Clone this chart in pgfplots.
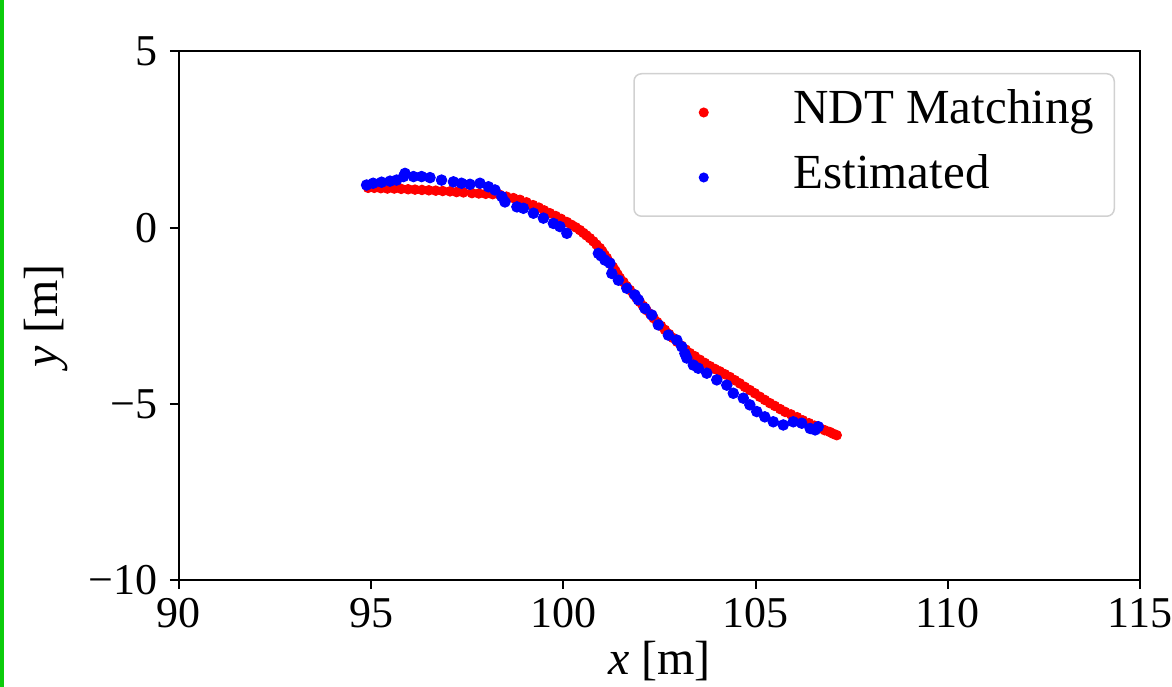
\documentclass[border=0pt]{standalone}
\usepackage{fontspec}
\setmainfont{Liberation Serif}
\usepackage{pgfplots}
\pgfplotsset{compat=1.18}

\definecolor{framegreen}{RGB}{12,204,12}

\begin{document}
\begin{tikzpicture}
\begin{axis}[
    name=ax,
    scale only axis,
    width=384.4pt,
    height=211.4pt,
    xmin=90, xmax=115,
    ymin=-10, ymax=5,
    xtick={90,95,100,105,110,115},
    xticklabels={90,95,100,105,110,115},
    ytick={-10,-5,0,5},
    yticklabels={−10,−5,0,5},
    xtick pos=bottom,
    ytick pos=left,
    tick align=outside,
    major tick length=3.6pt,
    axis line style={line width=0.8pt},
    every tick/.style={black, line width=0.8pt},
    tick label style={font=\fontsize{17.6}{20}\selectfont},
    xticklabel style={anchor=base, yshift=-15.6pt},
    yticklabel style={anchor=east, inner sep=0pt, xshift=-4.8pt},
    xlabel={\textit{x} [m]},
    ylabel={\textit{y} [m]},
    every axis x label/.style={at={(axis description cs:0.5,-0.178)}, anchor=base,
        font=\fontsize{19.2}{22}\selectfont},
    every axis y label/.style={at={(axis description cs:-0.1384,0.5)}, anchor=center, rotate=90,
        font=\fontsize{19.2}{22}\selectfont},
    legend style={
        at={(axis description cs:1,1)}, anchor=north east,
        xshift=-10pt, yshift=-8.6pt,
        draw=black!18, line width=0.6pt, rounded corners=3pt, fill=white,
        inner xsep=8pt, inner ysep=7pt,
        nodes={inner sep=0pt, text height=13pt, text depth=4pt},
        row sep=9pt, column sep=0pt,
        font=\fontsize{19.6}{22}\selectfont,
        cells={anchor=west},
    },
    legend image code/.code={
        \path (0pt,0pt) (55.2pt,0pt);
        \draw[#1, mark size=1.7pt] plot coordinates {(19.6pt,0pt)};
    },
]

% NDT matching trajectory (dense)
\addplot[only marks, mark=*, color=red, mark size=1.9pt, mark options={draw=none, fill=red}] coordinates {
(94.92,1.13) (95.08,1.13) (95.25,1.12) (95.42,1.11) (95.60,1.11) (95.78,1.10)
(95.96,1.09) (96.14,1.08) (96.32,1.07) (96.50,1.06) (96.68,1.05) (96.86,1.04)
(97.05,1.03) (97.22,1.01) (97.40,1.00) (97.62,0.98) (97.80,0.97) (97.98,0.96)
(98.16,0.95) (98.35,0.93) (98.52,0.88) (98.70,0.84) (98.87,0.79) (99.04,0.72)
(99.21,0.64) (99.36,0.57) (99.50,0.49) (99.65,0.41) (99.80,0.33) (99.94,0.25)
(100.09,0.16) (100.21,0.08) (100.32,0.01) (100.43,-0.07) (100.52,-0.15) (100.60,-0.22)
(100.69,-0.30) (100.78,-0.39) (100.86,-0.48) (100.95,-0.58) (101.01,-0.67) (101.07,-0.77)
(101.13,-0.86) (101.21,-0.99) (101.29,-1.12) (101.35,-1.22) (101.41,-1.33) (101.47,-1.43)
(101.56,-1.54) (101.64,-1.66) (101.73,-1.77) (101.82,-1.88) (101.90,-1.99) (101.99,-2.11)
(102.07,-2.22) (102.16,-2.34) (102.26,-2.45) (102.35,-2.57) (102.44,-2.68) (102.54,-2.79)
(102.64,-2.90) (102.75,-3.02) (102.85,-3.13) (102.96,-3.24) (103.07,-3.35) (103.18,-3.46)
(103.29,-3.56) (103.42,-3.65) (103.55,-3.75) (103.68,-3.84) (103.81,-3.93) (103.94,-4.01)
(104.07,-4.08) (104.20,-4.16) (104.33,-4.24) (104.46,-4.33) (104.59,-4.42) (104.72,-4.52)
(104.85,-4.61) (104.98,-4.70) (105.11,-4.80) (105.24,-4.89) (105.37,-4.98) (105.50,-5.06)
(105.64,-5.15) (105.77,-5.23) (105.92,-5.30) (106.08,-5.38) (106.23,-5.47) (106.39,-5.55)
(106.53,-5.62) (106.67,-5.69) (106.80,-5.75) (106.93,-5.80) (107.02,-5.85) (107.11,-5.89)
};
\addlegendentry{NDT Matching}

% estimated trajectory
\addplot[only marks, mark=*, color=blue, mark size=2.1pt, mark options={draw=none, fill=blue}] coordinates {
(94.88,1.21) (95.05,1.26) (95.27,1.29) (95.49,1.32) (95.66,1.35) (95.84,1.45)
(95.88,1.54) (96.10,1.45) (96.31,1.45) (96.53,1.42) (96.83,1.35) (97.14,1.30)
(97.35,1.26) (97.57,1.23) (97.83,1.26) (98.05,1.16) (98.22,1.07) (98.40,0.88)
(98.48,0.73) (98.79,0.59) (98.96,0.55) (99.22,0.41) (99.48,0.27) (99.74,0.12)
(99.91,0.03) (100.09,-0.16) (100.91,-0.73) (100.98,-0.80) (101.08,-0.92) (101.21,-1.01)
(101.26,-1.30) (101.43,-1.49) (101.65,-1.72) (101.86,-1.91) (101.95,-2.05) (102.12,-2.29)
(102.30,-2.48) (102.47,-2.76) (102.73,-3.05) (102.95,-3.19) (103.08,-3.38) (103.16,-3.57)
(103.21,-3.70) (103.38,-3.90) (103.51,-3.99) (103.73,-4.13) (103.99,-4.32) (104.25,-4.47)
(104.42,-4.70) (104.68,-4.84) (104.85,-5.03) (105.03,-5.22) (105.24,-5.37) (105.46,-5.51)
(105.72,-5.60) (105.98,-5.51) (106.20,-5.55) (106.42,-5.70) (106.55,-5.74) (106.63,-5.65)
};
\addlegendentry{Estimated}

\end{axis}
\pgfresetboundingbox
\path ([shift={(-71.6pt,-42.8pt)}]ax.south west) rectangle ([shift={(12.8pt,20.6pt)}]ax.north east);
\fill[framegreen] ([shift={(-71.6pt,-42.8pt)}]ax.south west) rectangle ([shift={(-70pt,20.6pt)}]ax.north west);
\end{tikzpicture}
\end{document}
